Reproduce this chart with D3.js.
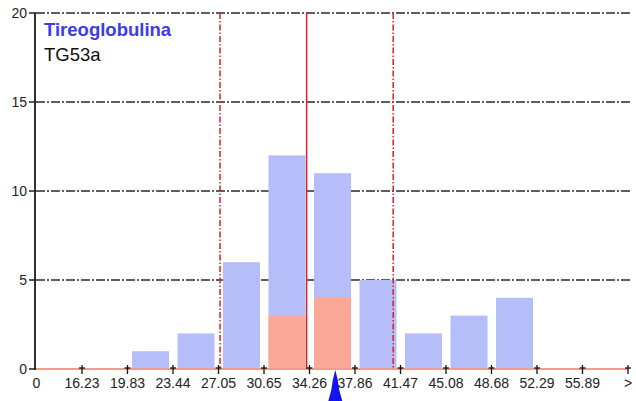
<!DOCTYPE html>
<html><head><meta charset="utf-8">
<script src="https://cdn.jsdelivr.net/npm/d3@7"></script>
<style>body{margin:0;background:#fff}svg{display:block;font-family:Arial,"Liberation Sans",sans-serif}</style>
</head><body><svg id="c" width="636" height="401"></svg>
<script>
const tickLabels = ["0","16.23","19.83","23.44","27.05","30.65","34.26","37.86","41.47","45.08","48.68","52.29","55.89",">"];
const totalCounts = [0,0,1,2,6,12,11,5,2,3,4,0,0];
const markedCounts = [0,0,0,0,0,3,4,0,0,0,0,0,0];
const yTicks = [0,5,10,15,20];
const refMean = 34.03;
const refLower = 27.17;
const refUpper = 40.89;
const patientValue = 36.3;
const titleLines = ["Tireoglobulina","TG53a"];

const svg = d3.select("#c");
const x = d3.scaleLinear().domain([0, 13]).range([36.5, 628]);
const v = d3.scaleLinear().domain([16.23, 55.89]).range([x(1), x(12)]);
const y = d3.scaleLinear().domain([0, 20]).range([369, 13]);

// gridlines
svg.append("g").selectAll("line").data(yTicks.filter(d => d > 0)).join("line")
  .attr("x1", 36).attr("x2", 630).attr("y1", d => y(d)).attr("y2", d => y(d))
  .attr("stroke", "#2a2a2a").attr("stroke-width", 1.4).attr("stroke-dasharray", "9,2,2,2");

// bars
const bw = 37;
svg.append("g").selectAll("rect").data(totalCounts.map((c,i)=>({c,i})).filter(d=>d.c>0)).join("rect")
  .attr("x", d => x(d.i) + 4.5).attr("width", bw)
  .attr("y", d => y(d.c)).attr("height", d => y(0) - y(d.c))
  .attr("fill", "#b6befa");
svg.append("g").selectAll("rect").data(markedCounts.map((c,i)=>({c,i})).filter(d=>d.c>0)).join("rect")
  .attr("x", d => x(d.i) + 4.5).attr("width", bw)
  .attr("y", d => y(d.c)).attr("height", d => y(0) - y(d.c))
  .attr("fill", "#fba899");

// baseline
svg.append("line").attr("x1", 36).attr("x2", x(13)).attr("y1", y(0)).attr("y2", y(0))
  .attr("stroke", "#f59a8c").attr("stroke-width", 2);

// reference lines
const refs = [{v: refLower, dash: "6,2,1.5,2"}, {v: refMean, dash: null}, {v: refUpper, dash: "6,2,1.5,2"}];
svg.append("g").selectAll("line").data(refs).join("line")
  .attr("x1", d => v(d.v)).attr("x2", d => v(d.v)).attr("y1", y(20)).attr("y2", y(0))
  .attr("stroke", "#d42424").attr("stroke-width", 1.5)
  .attr("stroke-dasharray", d => d.dash);

// y axis
svg.append("line").attr("x1", 35).attr("x2", 35).attr("y1", y(20)).attr("y2", y(0) + 1)
  .attr("stroke", "#333").attr("stroke-width", 2);
const yg = svg.append("g").selectAll("g").data(yTicks).join("g");
yg.append("line").attr("x1", 29).attr("x2", 36).attr("y1", d => y(d)).attr("y2", d => y(d))
  .attr("stroke", "#222").attr("stroke-width", 1.5);
yg.append("text").attr("x", 27).attr("y", d => y(d) + 5).attr("text-anchor", "end")
  .attr("font-size", 14).attr("fill", "#222").text(d => d);

// x ticks
const xg = svg.append("g").selectAll("g").data(tickLabels.map((t,i)=>({t,i}))).join("g");
xg.filter(d => d.i > 0).append("line").attr("x1", d => x(d.i)).attr("x2", d => x(d.i))
  .attr("y1", y(0) - 4).attr("y2", y(0) + 5).attr("stroke", "#111").attr("stroke-width", 1.3);
xg.filter(d => d.i > 0).append("line").attr("x1", d => x(d.i) - 3).attr("x2", d => x(d.i) + 3)
  .attr("y1", y(0) - 1).attr("y2", y(0) - 1).attr("stroke", "#111").attr("stroke-width", 1.3);
xg.append("text").attr("x", d => x(d.i)).attr("y", 388).attr("text-anchor", "middle")
  .attr("font-size", 14).attr("fill", "#222").text(d => d.t);

// patient arrow
const px = v(patientValue);
svg.append("path")
  .attr("d", `M${px},370 L${px+2.5},380 L${px+4},390 L${px+7},401 L${px-7},401 L${px-4},390 L${px-2.5},380 Z`)
  .attr("fill", "#1414f0");

// title
svg.append("text").attr("x", 44).attr("y", 36).attr("font-size", 18.5).attr("font-weight", "bold")
  .attr("fill", "#3a3af0").text(titleLines[0]);
svg.append("text").attr("x", 44).attr("y", 61).attr("font-size", 18.5)
  .attr("fill", "#111").text(titleLines[1]);
</script></body></html>
